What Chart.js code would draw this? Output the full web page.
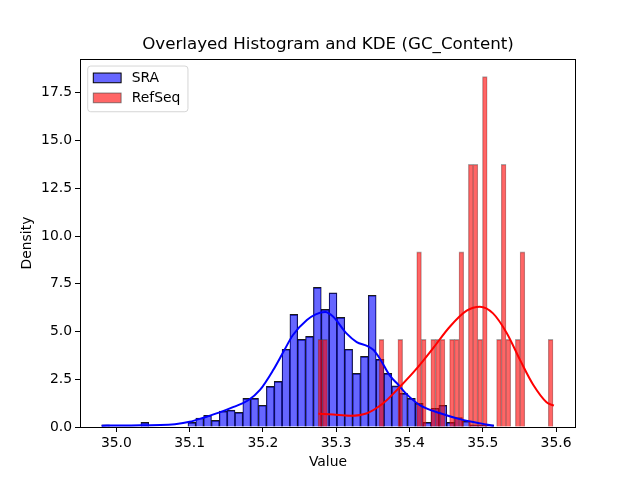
<!DOCTYPE html>
<html><head><meta charset="utf-8">
<script src="https://cdn.jsdelivr.net/npm/chart.js@4/dist/chart.umd.min.js"></script>
<style>html,body{margin:0;padding:0;background:#fff}#wrap{width:640px;height:480px}</style>
</head><body><div id="wrap"><canvas id="c" width="640" height="480"></canvas></div>
<script>
const TITLE = 'Overlayed Histogram and KDE (GC_Content)';
const X_LABEL = 'Value';
const Y_LABEL = 'Density';
const SERIES_NAMES = ['SRA', 'RefSeq'];
const X_TICKS = [35.0, 35.1, 35.2, 35.3, 35.4, 35.5, 35.6];
const Y_TICKS = [0, 2.5, 5.0, 7.5, 10.0, 12.5, 15.0, 17.5];
const X_RANGE = [34.9504, 35.6272];
const Y_RANGE = [0, 19.27];

const SRA_BIN_START = 34.980;
const SRA_BIN_WIDTH = 0.0107;
const SRA_DENSITY = [0.12, 0, 0, 0, 0, 0.24, 0, 0, 0, 0,
  0, 0.24, 0.47, 0.61, 0.35, 0.83, 0.88, 0.77, 1.50, 1.50,
  1.14, 2.13, 2.39, 4.07, 5.90, 4.59, 4.75, 7.31, 6.16, 7.03,
  5.74, 4.07, 2.81, 3.70, 6.90, 3.54, 2.81, 2.15, 1.76, 1.50,
  1.24, 0.24, 0.98, 1.14, 0.24, 0.49, 0.30, 0.12, 0.12, 0.12];

const REFSEQ_BIN_START = 35.2752;
const REFSEQ_BIN_WIDTH = 0.006412;
const REFSEQ_DENSITY = [4.59, 4.59, 0, 0, 0, 0, 0, 0, 0, 0,
  0, 0, 0, 4.59, 0, 0, 0, 4.59, 0, 0,
  0, 9.17, 4.59, 0, 4.59, 4.59, 4.59, 0, 4.59, 4.59,
  9.17, 0, 13.76, 13.76, 4.59, 18.35, 0, 0, 4.59, 13.76,
  4.59, 0, 4.59, 9.17, 0, 0, 0, 0, 0, 4.59];

const SRA_KDE_X = [34.980, 35.000, 35.020, 35.040, 35.060, 35.080, 35.100, 35.120, 35.140, 35.160, 35.180, 35.196, 35.214, 35.228, 35.241, 35.260, 35.272, 35.285, 35.296, 35.314, 35.328, 35.342, 35.351, 35.360, 35.373, 35.385, 35.396, 35.414, 35.442, 35.470, 35.497, 35.515];
const SRA_KDE_Y = [0.07, 0.08, 0.08, 0.09, 0.10, 0.15, 0.27, 0.50, 0.75, 1.05, 1.40, 1.94, 2.98, 3.94, 4.82, 5.60, 5.90, 6.02, 5.77, 4.90, 4.45, 4.25, 4.03, 3.55, 2.70, 2.20, 1.72, 1.15, 0.72, 0.40, 0.19, 0.07];

const REFSEQ_KDE_X = [35.2756, 35.296, 35.319, 35.342, 35.364, 35.387, 35.410, 35.432, 35.455, 35.478, 35.496, 35.514, 35.533, 35.551, 35.569, 35.587, 35.597];
const REFSEQ_KDE_Y = [0.70, 0.65, 0.59, 0.72, 1.24, 2.11, 3.07, 4.12, 5.25, 6.09, 6.30, 5.95, 4.90, 3.50, 2.20, 1.30, 1.12];

const FONT = '"DejaVu Sans", "Liberation Sans", sans-serif';
Chart.defaults.color = '#000';
Chart.defaults.font.family = FONT;

const binPoints = (start, width, vals) => vals.map((v, i) => ({x: start + (i + 0.5) * width, y: v}));
const linePoints = (xs, ys) => xs.map((x, i) => ({x: x, y: ys[i]}));

const framePlugin = {
  id: 'frame',
  afterDatasetsDraw(chart) {
    const {ctx, chartArea: a} = chart;
    ctx.save();
    ctx.strokeStyle = '#000';
    ctx.lineWidth = 1;
    ctx.strokeRect(Math.floor(a.left) + 0.5, Math.floor(a.top) + 0.5, Math.round(a.right - a.left) - 1, Math.round(a.bottom - a.top));
    ctx.restore();
  }
};

const legendPlugin = {
  id: 'boxLegend',
  afterDraw(chart) {
    const {ctx, chartArea: a} = chart;
    const items = SERIES_NAMES.map(n => chart.data.datasets.find(d => d.type === 'bar' && d.label === n));
    const fs = 13.9;
    ctx.save();
    ctx.font = fs + 'px ' + FONT;
    const x0 = a.left + 7.7, y0 = a.top + 7;
    const textX = x0 + 44;
    let maxW = 0;
    items.forEach(d => { maxW = Math.max(maxW, ctx.measureText(d.label).width); });
    const w = textX + maxW + 7.6 - x0, h = 45.7;
    ctx.beginPath();
    ctx.roundRect(x0, y0, w, h, 3);
    ctx.fillStyle = 'rgba(255,255,255,0.8)';
    ctx.fill();
    ctx.strokeStyle = 'rgba(204,204,204,0.8)';
    ctx.lineWidth = 1;
    ctx.stroke();
    items.forEach((d, i) => {
      const cy = y0 + 12 + i * 20;
      ctx.fillStyle = d.backgroundColor;
      ctx.fillRect(x0 + 5.6, cy - 5, 27.8, 9.7);
      ctx.strokeStyle = d.legendEdge;
      ctx.lineWidth = 1;
      ctx.strokeRect(x0 + 5.6, cy - 5, 27.8, 9.7);
      ctx.fillStyle = '#000';
      ctx.textBaseline = 'middle';
      ctx.textAlign = 'left';
      ctx.fillText(d.label, textX, cy);
    });
    ctx.restore();
  }
};

new Chart(document.getElementById('c'), {
  type: 'bar',
  data: {
    datasets: [
      {
        type: 'line', label: SERIES_NAMES[1] + ' KDE', data: linePoints(REFSEQ_KDE_X, REFSEQ_KDE_Y),
        xAxisID: 'x', borderColor: '#ff0000', borderWidth: 2, pointRadius: 0, fill: false,
        cubicInterpolationMode: 'monotone', order: 0
      },
      {
        type: 'line', label: SERIES_NAMES[0] + ' KDE', data: linePoints(SRA_KDE_X, SRA_KDE_Y),
        xAxisID: 'x', borderColor: '#0000ff', borderWidth: 2, pointRadius: 0, fill: false,
        cubicInterpolationMode: 'monotone', order: 1
      },
      {
        type: 'bar', label: SERIES_NAMES[1], data: binPoints(REFSEQ_BIN_START, REFSEQ_BIN_WIDTH, REFSEQ_DENSITY),
        xAxisID: 'x2', backgroundColor: 'rgba(255,0,0,0.6)', borderColor: 'rgba(60,60,60,0.45)',
        legendEdge: 'rgba(60,60,60,0.6)',
        borderWidth: {top: 1, left: 0.6, right: 0.6, bottom: 0}, borderSkipped: false,
        barPercentage: 1, categoryPercentage: 1, grouped: false, order: 2
      },
      {
        type: 'bar', label: SERIES_NAMES[0], data: binPoints(SRA_BIN_START, SRA_BIN_WIDTH, SRA_DENSITY),
        xAxisID: 'x', backgroundColor: 'rgba(0,0,255,0.6)', borderColor: 'rgba(0,0,0,0.9)',
        legendEdge: '#000',
        borderWidth: {top: 1, left: 0.6, right: 0.6, bottom: 0}, borderSkipped: false,
        barPercentage: 1, categoryPercentage: 1, grouped: false, order: 3
      }
    ]
  },
  options: {
    responsive: false,
    animation: false,
    devicePixelRatio: 1,
    layout: {padding: {left: 0, right: 64, top: 0, bottom: 0}},
    plugins: {
      legend: {display: false},
      tooltip: {enabled: false},
      title: {
        display: true, text: TITLE, color: '#000', fullSize: false, align: 'center',
        font: {family: FONT, size: 16.7, weight: 'normal'},
        padding: {top: 34.5, bottom: 4.5}
      }
    },
    scales: {
      x: {
        type: 'linear', position: 'bottom', min: X_RANGE[0], max: X_RANGE[1], offset: false,
        grid: {display: true, drawOnChartArea: false, drawTicks: true, tickLength: 5, color: '#000', offset: false},
        border: {display: false},
        afterBuildTicks: s => { s.ticks = X_TICKS.map(v => ({value: v})); },
        afterFit: s => { s.height = 53; },
        ticks: {font: {family: FONT, size: 13.9}, color: '#000', padding: 3, maxRotation: 0,
          callback: v => Number(v).toFixed(1)},
        title: {display: true, text: X_LABEL, font: {family: FONT, size: 13.9}, color: '#000', padding: {top: 0, bottom: 9.6}}
      },
      x2: {
        type: 'linear', position: 'bottom', display: false, min: X_RANGE[0], max: X_RANGE[1], offset: false,
        grid: {offset: false}
      },
      y: {
        type: 'linear', position: 'left', min: Y_RANGE[0], max: Y_RANGE[1],
        grid: {display: true, drawOnChartArea: false, drawTicks: true, tickLength: 5, color: '#000'},
        border: {display: false},
        afterBuildTicks: s => { s.ticks = Y_TICKS.map(v => ({value: v})); },
        afterFit: s => { s.width = 80; },
        ticks: {font: {family: FONT, size: 13.9}, color: '#000', padding: 3,
          callback: v => Number(v).toFixed(1)},
        title: {display: true, text: Y_LABEL, font: {family: FONT, size: 13.9}, color: '#000', padding: {top: 18.6, bottom: 0}}
      }
    }
  },
  plugins: [framePlugin, legendPlugin]
});
</script>
</body></html>
